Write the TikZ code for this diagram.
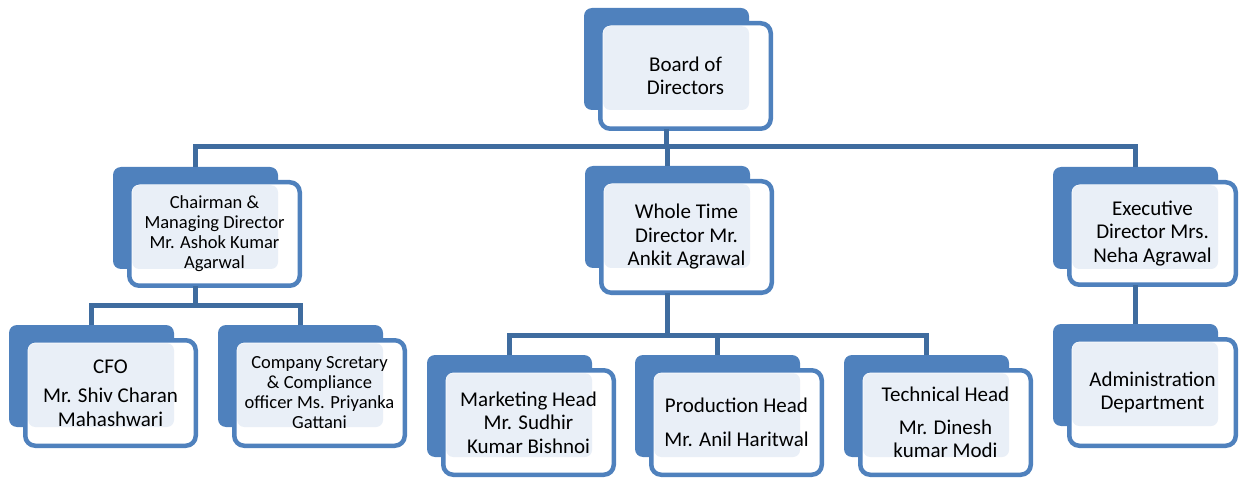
\documentclass[tikz,border=0pt]{standalone}
\usepackage{fontspec}
\setmainfont{Carlito}
\usetikzlibrary{calc}
\definecolor{boxblue}{HTML}{4F81BD}
\definecolor{lineblue}{HTML}{3F6C9F}
\definecolor{patblue}{HTML}{E9EFF7}
% #1 name, #2 back left x, #3 back top y, #4 front outer height, #5 front outer width, #6 text style, #7 text
\newcommand\orgbox[7]{%
  \node[backbox, anchor=north west] (#1b) at (#2,#3) {};
  \node[frontbox, anchor=north west, minimum width=#5pt-4.5pt, minimum height=#4pt-4.5pt]
       (#1f) at ($(#1b.north west)+(16.25,15.25)$) {};
  \fill[patblue, rounded corners=7pt] ($(#1f.north west)+(3,3)$) rectangle (#1b.south east);
  \node[#6] (#1t) at (#1f.center) {#7};
}
\begin{document}
\begin{tikzpicture}[x=1pt,y=-1pt,
  backbox/.style={fill=boxblue, draw=none, rounded corners=8pt, minimum width=165pt,
                  minimum height=102pt, inner sep=0pt, outer sep=0pt},
  frontbox/.style={fill=white, draw=boxblue, line width=4.5pt, rounded corners=10pt,
                   inner sep=0pt, outer sep=0pt},
  conn/.style={draw=lineblue, line width=5pt},
  big/.style={font=\fontsize{21}{23.5}\selectfont, align=center, inner sep=0pt},
  small/.style={font=\fontsize{18.5}{20}\selectfont, align=center, inner sep=0pt}]
\useasboundingbox (0,0) rectangle (1239,478);

\orgbox{board}{584}{8}{110}{175}{big}{Board of\\Directors}
\orgbox{chair}{113}{167}{108}{175}{small}{Chairman \&\\Managing Director\\Mr. Ashok Kumar\\Agarwal}
\orgbox{whole}{585}{166}{116}{175}{big}{Whole Time\\Director Mr.\\Ankit Agrawal}
\orgbox{exec}{1053}{167}{107}{171}{big}{Executive\\Director Mrs.\\Neha Agrawal}
\orgbox{cfo}{9}{325}{110}{175}{big}{CFO\\[6pt]Mr. Shiv Charan\\Mahashwari}
\orgbox{comp}{218}{325}{110}{175}{small}{Company Scretary\\\& Compliance\\officer Ms. Priyanka\\Gattani}
\orgbox{mkt}{427}{355}{109}{175}{big}{Marketing Head\\Mr. Sudhir\\Kumar Bishnoi}
\orgbox{prod}{635}{355}{109}{175}{big}{Production Head\\[10pt]Mr. Anil Haritwal}
\orgbox{tech}{844}{355}{109}{175}{big}{Technical Head\\[9pt]Mr. Dinesh\\kumar Modi}
\orgbox{admin}{1053}{324}{111}{171}{big}{Administration\\Department}

% level 1 bus
\coordinate (bus1) at ($(boardb.center |- chairb.north)+(0,-20)$);
\draw[conn] (boardb.center |- boardf.south) -- (bus1);
\draw[conn] (chairb.north) |- (bus1) -| (execb.north);
\draw[conn] (bus1 -| wholeb.north) -- (wholeb.north);

% chairman bus
\coordinate (bus2) at ($(chairb.center |- cfob.north)+(0,-20)$);
\draw[conn] (chairb.center |- chairf.south) -- (bus2);
\draw[conn] (cfob.north) |- (bus2) -| (compb.north);

% whole time bus
\coordinate (bus3) at ($(wholeb.center |- mktb.north)+(0,-20)$);
\draw[conn] (wholeb.center |- wholef.south) -- (bus3);
\draw[conn] (mktb.north) |- (bus3) -| (techb.north);
\draw[conn] (bus3 -| prodb.north) -- (prodb.north);

% executive to admin
\draw[conn] (execb.center |- execf.south) -- (adminb.north);
\end{tikzpicture}
\end{document}
